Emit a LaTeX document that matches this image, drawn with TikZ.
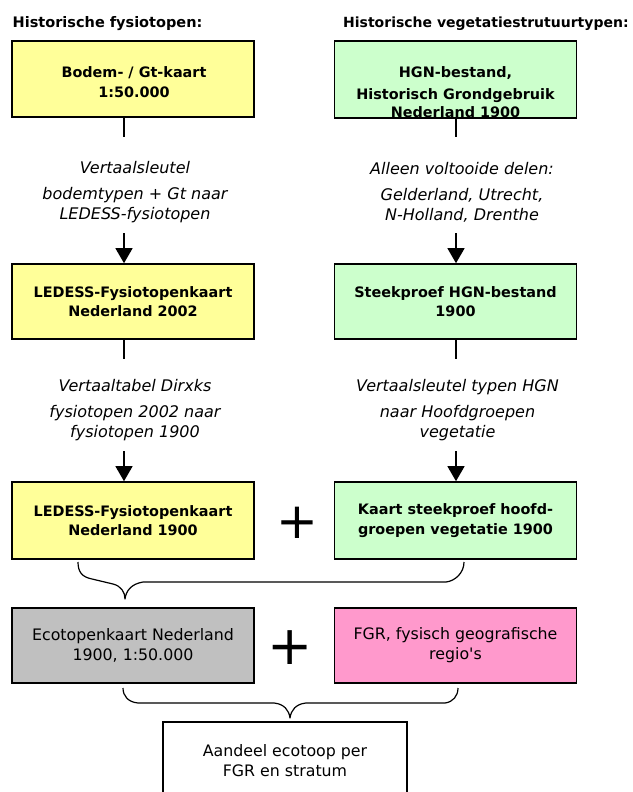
\documentclass[tikz,border=0pt]{standalone}
\usepackage{fontspec}
\setmainfont{DejaVu Sans}
\newfontfamily\plainfont{DejaVu Sans}
\usetikzlibrary{arrows.meta}
\definecolor{boxyellow}{HTML}{FFFF99}
\definecolor{boxgreen}{HTML}{CCFFCC}
\definecolor{boxgray}{HTML}{C0C0C0}
\definecolor{boxpink}{HTML}{FF99CC}
\tikzset{
  box/.style={draw=black, line width=1.6pt, minimum width=242pt, inner sep=0pt,
    align=center, font=\bfseries\fontsize{14.4}{19.5}\selectfont},
  regbox/.style={box, font=\plainfont\fontsize{15.8}{20}\selectfont},
  boxtext/.style={inner sep=0pt, align=center, font=\bfseries\fontsize{14.4}{18}\selectfont},
  title/.style={anchor=base west, inner sep=0pt, font=\bfseries\fontsize{14}{17}\selectfont},
  steplabel/.style={inner sep=0pt, align=center, font=\itshape\fontsize{16}{20}\selectfont},
  plussign/.style={inner sep=0pt},
  conn/.style={line width=1.3pt},
  arr/.style={line width=1.3pt, -{Triangle[width=17pt,length=15pt]}},
  bracepath/.style={line width=1.2pt, line join=round},
}
\begin{document}
\begin{tikzpicture}[x=1pt,y=-1pt]
\useasboundingbox (0,0) rectangle (632,792);
\clip (0,0) rectangle (632,792);

% titles
\node[title, font=\bfseries\fontsize{14.5}{17}\selectfont] (tl) at (12.5,28) {Historische fysiotopen:};
\node[title] (tr) at (343,28) {Historische vegetatiestrutuurtypen:};

% row 1
\node[box, fill=boxyellow, minimum height=76pt] (b1L) at (133,79) {};
\node[boxtext] (b1Lt) at (134,82) {Bodem- / Gt-kaart\\[1.5pt] 1:50.000};
\node[box, fill=boxgreen, minimum height=77pt] (b1R) at (455.5,79.5) {};
\node[boxtext] (b1Rt) at (455.5,92.5) {HGN-bestand,\\[4pt] Historisch Grondgebruik\\ Nederland 1900};

% row 2
\node[box, fill=boxyellow, minimum height=75pt] (b2L) at (133,301.5) {LEDESS-Fysiotopenkaart\\ Nederland 2002};
\node[box, fill=boxgreen, minimum height=75pt] (b2R) at (455.5,301.5) {Steekproef HGN-bestand\\ 1900};

% row 3
\node[box, fill=boxyellow, minimum height=77pt] (b3L) at (133,520.5) {LEDESS-Fysiotopenkaart\\ Nederland 1900};
\node[box, fill=boxgreen, minimum height=77pt] (b3R) at (455.5,520.5) {Kaart steekproef hoofd-\\ groepen vegetatie 1900};
\node[plussign, font=\fontsize{50}{50}\selectfont] (p1) at (297,523) {+};

% row 4
\node[regbox, fill=boxgray, minimum height=75pt] (b4L) at (133,645.5) {Ecotopenkaart Nederland\\ 1900, 1:50.000};
\node[regbox, fill=boxpink, minimum height=75pt] (b4R) at (455.5,645.5) {FGR, fysisch geografische\\ regio's};
\node[plussign, font=\fontsize{54}{54}\selectfont] (p2) at (290,648) {+};

% result
\node[regbox, fill=white, minimum width=244pt, minimum height=78pt] (b5) at (285,761) {Aandeel ecotoop per\\ FGR en stratum};

% step labels
\node[steplabel] (s1L) at (135,192) {Vertaalsleutel\\[6pt] bodemtypen + Gt naar\\ LEDESS-fysiotopen};
\node[steplabel] (s1R) at (462,192) {Alleen voltooide delen:\\[6pt] Gelderland, Utrecht,\\ N-Holland, Drenthe};
\node[steplabel] (s2L) at (135,410) {Vertaaltabel Dirxks\\[6pt] fysiotopen 2002 naar\\ fysiotopen 1900};
\node[steplabel] (s2R) at (457.5,410) {Vertaalsleutel typen HGN\\[6pt] naar Hoofdgroepen\\ vegetatie};

% connector coordinates
\coordinate (c1La) at (124,137);
\coordinate (c1Lb) at (124,233);
\coordinate (c2La) at (124,359);
\coordinate (c2Lb) at (124,451);
\coordinate (c1Ra) at (456,137);
\coordinate (c1Rb) at (456,233);
\coordinate (c2Ra) at (456,359);
\coordinate (c2Rb) at (456,451);

\draw[conn] (b1L.south -| c1La) -- (c1La);
\draw[arr] (c1Lb) -- (b2L.north -| c1Lb);
\draw[conn] (b2L.south -| c2La) -- (c2La);
\draw[arr] (c2Lb) -- (b3L.north -| c2Lb);
\draw[conn] (b1R.south -| c1Ra) -- (c1Ra);
\draw[arr] (c1Rb) -- (b2R.north -| c1Rb);
\draw[conn] (b2R.south -| c2Ra) -- (c2Ra);
\draw[arr] (c2Rb) -- (b3R.north -| c2Rb);

% braces
\coordinate (br1a) at (78,562);
\coordinate (br1b) at (464,562);
\coordinate (br1tip) at (125,599);
\draw[bracepath] (br1a) .. controls (78,572) and (82,577) .. (92,579)
  -- (113,584) .. controls (121,586) and (125,592) .. (br1tip)
  .. controls (126,591) and (131,584) .. (143,582)
  -- (446,582) .. controls (455,581) and (464,573) .. (br1b);

\coordinate (br2a) at (123,688);
\coordinate (br2b) at (458,688);
\coordinate (br2tip) at (290,718);
\draw[bracepath] (br2a) .. controls (123,696) and (128,702) .. (138,703)
  -- (274,703) .. controls (284,704) and (289,710) .. (br2tip)
  .. controls (291,710) and (296,704) .. (306,703)
  -- (445,703) .. controls (453,702) and (458,696) .. (br2b);
\end{tikzpicture}
\end{document}
